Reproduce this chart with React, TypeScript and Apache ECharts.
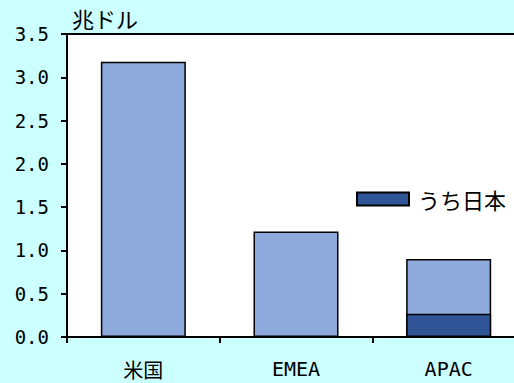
import React, { useEffect, useRef } from "react";
import * as echarts from "echarts";

const categories = ["米国", "EMEA", "APAC"];
const totalValues = [3.18, 1.22, 0.9];
const japanValues: (number | null)[] = [null, null, 0.27];
const japanName = "うち日本";
const unitLabel = "兆ドル";

const MONO = "'DejaVu Sans Mono', 'Liberation Mono', monospace";
const CJK = "'Noto Sans CJK JP', sans-serif";

export default function App() {
  const ref = useRef<HTMLDivElement>(null);
  useEffect(() => {
    if (!ref.current) return;
    const chart = echarts.init(ref.current, null, { renderer: "svg" });
    chart.setOption({
      animation: false,
      backgroundColor: "#CCFFFF",
      title: {
        text: unitLabel,
        left: 72,
        top: 7,
        padding: 0,
        textStyle: { fontFamily: CJK, fontSize: 22, fontWeight: "normal", color: "#000" },
      },
      legend: {
        data: [{ name: japanName, icon: "rect" }],
        left: 356,
        top: 188,
        padding: 0,
        itemWidth: 52,
        itemHeight: 13,
        textStyle: { fontFamily: CJK, fontSize: 22, color: "#000", padding: [0, 0, 0, 4] },
      },
      grid: {
        left: 67,
        right: 0,
        top: 34,
        bottom: 46,
        show: true,
        backgroundColor: "#FFFFFF",
        borderColor: "#000",
        borderWidth: 2,
      },
      xAxis: {
        type: "category",
        data: categories,
        axisLine: { lineStyle: { color: "#000", width: 2 } },
        axisTick: { show: true, length: 6, lineStyle: { color: "#000", width: 2 } },
        axisLabel: {
          margin: 22,
          formatter: (v: string) => (/^[A-Za-z]+$/.test(v) ? `{lat|${v}}` : `{cjk|${v}}`),
          rich: {
            lat: { fontFamily: MONO, fontSize: 20, color: "#000", lineHeight: 20 },
            cjk: { fontFamily: CJK, fontSize: 20, color: "#000", lineHeight: 20 },
          },
        },
      },
      yAxis: {
        type: "value",
        min: 0,
        max: 3.5,
        interval: 0.5,
        axisLine: { show: true, lineStyle: { color: "#000", width: 2 } },
        axisTick: { show: true, length: 6, lineStyle: { color: "#000", width: 2 } },
        splitLine: { show: false },
        axisLabel: {
          fontFamily: MONO,
          fontSize: 19,
          color: "#000",
          margin: 18,
          formatter: (v: number) => v.toFixed(1),
        },
      },
      series: [
        {
          name: "合計",
          type: "bar",
          data: totalValues,
          barWidth: 85,
          itemStyle: { color: "#8FAADC", borderColor: "#000", borderWidth: 1.5 },
        },
        {
          name: japanName,
          type: "bar",
          data: japanValues,
          barWidth: 85,
          barGap: "-100%",
          itemStyle: { color: "#2F5597", borderColor: "#000", borderWidth: 1.5 },
        },
      ],
    });
    return () => chart.dispose();
  }, []);
  return (
    <div
      style={{
        position: "fixed",
        left: 0,
        top: 0,
        width: 514,
        height: 383,
        overflow: "hidden",
        background: "#CCFFFF",
      }}
    >
      <div ref={ref} style={{ width: 525, height: 383 }} />
    </div>
  );
}
